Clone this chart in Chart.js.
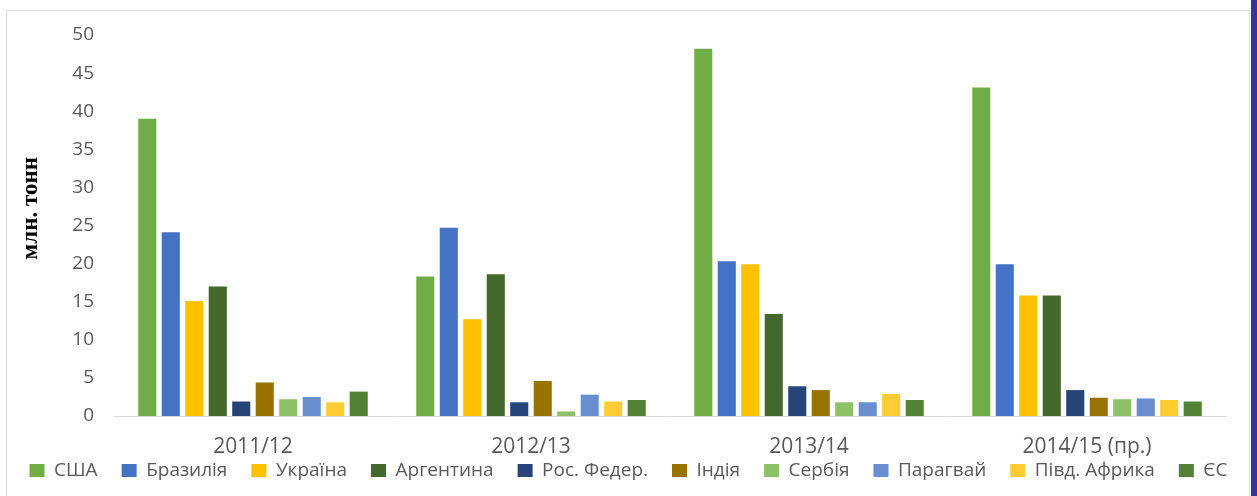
<!DOCTYPE html>
<html>
<head>
<meta charset="utf-8">
<script src="https://cdn.jsdelivr.net/npm/chart.js@4"></script>
<style>
  html, body { margin: 0; padding: 0; background: #fff; }
  #wrap { position: relative; width: 1257px; height: 496px; overflow: hidden; }
  #frame { position: absolute; left: 6px; top: 10px; width: 1244px; height: 600px; border: 1px solid #d9d9d9; box-sizing: border-box; }
  #band { position: absolute; left: 1251px; top: 0; width: 6px; height: 496px; background: #343399; }
  #myChart { position: absolute; left: 0; top: 0; }
</style>
</head>
<body>
<div id="wrap">
  <div id="frame"></div>
  <div id="band"></div>
  <canvas id="myChart" width="1257" height="496"></canvas>
</div>
<script>
// marketing years
const categories = ['2011/12', '2012/13', '2013/14', '2014/15 (пр.)'];

// exports, mln tonnes
const usa = [39.0, 18.3, 48.2, 43.1];
const brazil = [24.1, 24.7, 20.3, 19.9];
const ukraine = [15.1, 12.7, 19.9, 15.8];
const argentina = [17.0, 18.6, 13.4, 15.8];
const russia = [1.9, 1.8, 3.9, 3.4];
const india = [4.4, 4.6, 3.4, 2.4];
const serbia = [2.2, 0.6, 1.8, 2.2];
const paraguay = [2.5, 2.8, 1.8, 2.3];
const southAfrica = [1.8, 1.9, 2.9, 2.1];
const eu = [3.2, 2.1, 2.1, 1.9];

const yTicks = [0, 5, 10, 15, 20, 25, 30, 35, 40, 45, 50];

const ctx = document.getElementById('myChart').getContext('2d');

function makeSet(label, data, color) {
    return {
        label: label,
        data: data,
        backgroundColor: color,
        borderWidth: 0,
        categoryPercentage: 0.845,
        barPercentage: 0.77,
    };
}

const datasets = [
    makeSet('США', usa, '#70ad47'),
    makeSet('Бразилія', brazil, '#4472c4'),
    makeSet('Україна', ukraine, '#ffc000'),
    makeSet('Аргентина', argentina, '#43682b'),
    makeSet('Рос. Федер.', russia, '#264478'),
    makeSet('Індія', india, '#997300'),
    makeSet('Сербія', serbia, '#8cc168'),
    makeSet('Парагвай', paraguay, '#698ed0'),
    makeSet('Півд. Африка', southAfrica, '#ffcd33'),
    makeSet('ЄС', eu, '#548235'),
];

// legend padding is used both across and down; keep the wide gaps between
// items but pull the row up closer to the category labels
const LEGEND_LIFT = 21;
const legendLift = {
    id: 'legendLift',
    beforeLayout(chart) {
        const legend = chart.legend;
        if (legend && !legend._lifted) {
            const fit = legend.fit;
            legend.fit = function () {
                fit.call(this);
                this.height -= LEGEND_LIFT;
            };
            legend._lifted = true;
        }
    },
    afterLayout(chart) {
        // only the top moves, the bottom stays so nothing gets clipped
        chart.legend.top -= LEGEND_LIFT;
    },
};

const myChart = new Chart(ctx, {
    type: 'bar',
    data: {
        labels: categories,
        datasets,
    },
    plugins: [legendLift],
    options: {
        responsive: false,
        animation: false,
        layout: {
            padding: { left: 0, right: 0, top: 35, bottom: 6 },
        },
        plugins: {
            tooltip: { enabled: false },
            legend: {
                position: 'bottom',
                labels: {
                    font: { family: 'Open Sans', size: 19 },
                    color: '#595959',
                    boxWidth: 15,
                    boxHeight: 13,
                    padding: 24,
                },
            },
        },
        scales: {
            x: {
                grid: { display: false, drawTicks: false },
                border: { color: '#d9d9d9', width: 1 },
                ticks: {
                    font: { family: 'Open Sans', size: 21 },
                    color: '#595959',
                    padding: 18,
                },
                afterFit: (scale) => { scale.height = 42; },
            },
            y: {
                min: 0,
                max: 50,
                afterBuildTicks: (scale) => { scale.ticks = yTicks.map((v) => ({ value: v })); },
                grid: { display: false, drawTicks: false },
                border: { display: false },
                ticks: {
                    font: { family: 'Open Sans', size: 19 },
                    color: '#595959',
                    padding: 20,
                },
                title: {
                    display: true,
                    // leading spaces nudge the rotated title upwards like the original
                    text: '      млн. тонн',
                    font: { family: 'Liberation Serif', size: 23, weight: 'bold' },
                    color: '#000000',
                    padding: { top: 17, bottom: 0 },
                },
                afterFit: (scale) => { scale.width = 114; },
            },
            // empty right axis, only keeps the plot clear of the right edge
            yRight: {
                position: 'right',
                grid: { display: false, drawTicks: false },
                border: { display: false },
                ticks: { display: false },
                afterFit: (scale) => { scale.width = 31; },
            },
        },
    },
});
</script>
</body>
</html>
